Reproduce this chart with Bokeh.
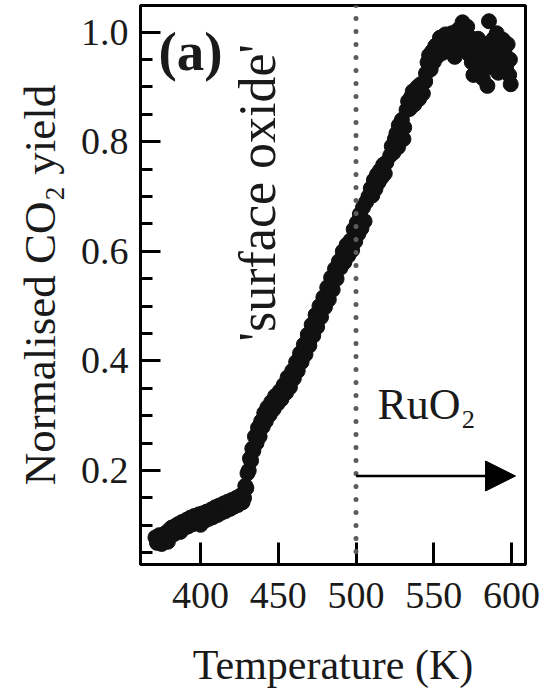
from bokeh.plotting import figure
from bokeh.models import Range1d, Span, Arrow, NormalHead, Label, FixedTicker, PrintfTickFormatter
from bokeh.embed import file_html
from bokeh.resources import INLINE

# ---- data ----
temperature = [
    371.0, 372.0, 373.5, 375.0, 376.0, 377.5, 379.0, 380.0, 381.5, 383.0, 384.0, 385.5, 387.0, 388.0,
    389.5, 391.0, 392.0, 393.5, 395.0, 396.0, 397.5, 399.0, 400.0, 401.5, 403.0, 404.0, 405.5, 407.0,
    408.0, 409.5, 411.0, 412.0, 413.5, 415.0, 416.0, 417.5, 419.0, 420.0, 421.5, 423.0, 424.0, 425.5,
    427.0,
    428.0, 428.8, 429.5, 430.2, 431.0, 431.8, 432.5, 433.3, 434.0, 435.0, 436.0, 437.0, 438.0, 439.0,
    440.0, 441.0, 442.0, 443.0, 444.5, 445.5, 447.0, 448.0, 449.5, 451.0, 452.0, 453.5, 455.0, 456.0,
    457.5, 459.0, 460.0, 461.5, 462.5, 464.0, 465.0, 466.5, 467.5, 469.0, 470.0, 471.5, 472.5, 474.0,
    475.0, 476.5, 477.5, 479.0, 480.0, 481.5, 482.5, 484.0, 485.0, 486.5, 487.5, 489.0, 490.0, 491.5,
    492.5, 494.0, 495.0, 496.5, 497.5, 498.5, 499.5, 500.5, 501.5, 502.5, 503.5, 504.5, 505.5, 506.5,
    508.0, 509.5, 510.5, 511.5, 512.5, 513.5, 514.5, 515.5, 516.5, 517.5, 518.5, 519.5,
    522.0, 523.0, 524.0, 525.0, 526.0, 527.0, 527.5, 528.5, 529.5, 530.5, 531.0,
    532.5, 533.5, 534.5, 535.5, 536.5, 537.5, 538.5, 539.5, 540.5, 541.5, 543.0, 544.5,
    545.0, 546.0, 547.0, 548.0, 549.0, 550.0, 551.0, 552.0, 553.0, 554.0, 555.5, 556.5, 557.5, 558.5,
    559.5, 560.5, 561.5, 562.5, 563.5, 564.5, 565.5, 566.5, 567.5, 568.5, 569.5, 570.5, 571.5, 572.5,
    573.5,
    574.5, 575.5, 576.5, 577.5, 578.5, 579.5, 580.5, 581.5, 582.5, 583.5, 584.5, 585.5, 586.5, 587.5,
    588.5, 589.5, 590.5, 591.5, 592.5, 593.5, 594.5, 595.5, 596.5, 597.5, 598.5, 599.0, 599.5,
]
co2_yield = [
    0.078, 0.068, 0.082, 0.066, 0.077, 0.086, 0.070, 0.092, 0.096, 0.084, 0.099, 0.102, 0.088, 0.106,
    0.095, 0.110, 0.098, 0.114, 0.102, 0.117, 0.105, 0.120, 0.101, 0.122, 0.109, 0.125, 0.112, 0.129,
    0.115, 0.133, 0.119, 0.136, 0.123, 0.140, 0.126, 0.143, 0.130, 0.146, 0.134, 0.150, 0.137, 0.154,
    0.142,
    0.150, 0.172, 0.168, 0.195, 0.200, 0.222, 0.218, 0.240, 0.236, 0.262, 0.250, 0.278, 0.262, 0.290,
    0.280, 0.305, 0.290, 0.315, 0.302, 0.325, 0.312, 0.336, 0.322, 0.345, 0.330, 0.356, 0.342, 0.370,
    0.352, 0.382, 0.368, 0.398, 0.382, 0.414, 0.398, 0.430, 0.412, 0.448, 0.428, 0.466, 0.446, 0.484,
    0.462, 0.500, 0.480, 0.516, 0.498, 0.534, 0.512, 0.552, 0.530, 0.568, 0.550, 0.582, 0.570, 0.600,
    0.580, 0.612, 0.592, 0.620, 0.602, 0.640, 0.618, 0.652, 0.632, 0.668, 0.642, 0.680, 0.655, 0.690,
    0.700, 0.715, 0.702, 0.730, 0.714, 0.740, 0.726, 0.748, 0.735, 0.758, 0.742, 0.762,
    0.775, 0.792, 0.780, 0.805, 0.815, 0.790, 0.830, 0.812, 0.840, 0.805, 0.826,
    0.858, 0.874, 0.860, 0.882, 0.892, 0.868, 0.888, 0.900, 0.878, 0.905, 0.888, 0.910,
    0.925, 0.945, 0.958, 0.932, 0.965, 0.946, 0.975, 0.955, 0.980, 0.990, 0.962, 0.984, 0.996, 0.972,
    0.990, 0.966, 0.998, 0.980, 0.955, 0.992, 1.004, 0.972, 1.008, 1.018, 0.994, 0.976, 1.010, 0.960,
    0.990,
    0.945, 0.922, 0.972, 0.948, 0.988, 0.936, 0.966, 0.916, 0.955, 0.978, 0.902, 1.020, 0.960, 0.936,
    0.988, 0.952, 0.998, 0.926, 0.972, 0.948, 0.986, 0.962, 0.936, 0.978, 0.922, 0.950, 0.905,
]

x_ticks = [400, 450, 500, 550, 600]
y_major_ticks = [0.2, 0.4, 0.6, 0.8, 1.0]
y_minor_ticks = [0.05, 0.10, 0.15, 0.25, 0.30, 0.35, 0.45, 0.50,
                 0.55, 0.65, 0.70, 0.75, 0.85, 0.90, 0.95]

boundary_T = 500          # 'surface oxide' / RuO2 boundary
arrow_y = 0.19
arrow_end_T = 602.6

# axis limits
X_LO, X_HI = 361.4, 609.0
Y_LO, Y_HI = 0.0285, 1.0487

FONT = "Liberation Serif"
TXT = "#1a1a1a"
TICK = "black"

p = figure(
    frame_width=385, frame_height=559,
    x_range=Range1d(X_LO, X_HI), y_range=Range1d(Y_LO, Y_HI),
    output_backend="svg", toolbar_location=None,
    min_border_left=140, min_border_right=20, min_border_top=5, min_border_bottom=120,
)
p.xgrid.visible = False
p.ygrid.visible = False
p.outline_line_color = "black"
p.outline_line_width = 3

# x axis
xa = p.xaxis[0]
xa.ticker = FixedTicker(ticks=x_ticks)
xa.axis_line_width = 3
xa.major_tick_line_width = 3
xa.major_tick_line_color = TICK
xa.major_tick_in = 22
xa.major_tick_out = 0
xa.minor_tick_line_color = None
xa.major_label_text_font = FONT
xa.major_label_text_font_size = "38px"
xa.major_label_text_color = TXT
xa.major_label_standoff = 18
xa.axis_label = "Temperature (K)"
xa.axis_label_text_font = FONT
xa.axis_label_text_font_style = "normal"
xa.axis_label_text_font_size = "42px"
xa.axis_label_text_color = TXT
xa.axis_label_standoff = 31

# y axis
ya = p.yaxis[0]
ya.ticker = FixedTicker(ticks=y_major_ticks, minor_ticks=y_minor_ticks)
ya.formatter = PrintfTickFormatter(format="%.1f")
ya.axis_line_width = 3
ya.major_tick_line_width = 3
ya.major_tick_line_color = TICK
ya.major_tick_in = 20
ya.major_tick_out = 0
ya.minor_tick_line_width = 3
ya.minor_tick_line_color = TICK
ya.minor_tick_in = 12
ya.minor_tick_out = 0
ya.major_label_text_font = FONT
ya.major_label_text_font_size = "38px"
ya.major_label_text_color = TXT
ya.major_label_standoff = 12
ya.axis_label = "Normalised CO\u2082 yield"
ya.axis_label_text_font = FONT
ya.axis_label_text_font_style = "normal"
ya.axis_label_text_font_size = "45px"
ya.axis_label_text_color = TXT
ya.axis_label_standoff = 13

# boundary (dotted)
p.add_layout(Span(location=boundary_T, dimension="height", line_color="#5c5c5c",
                  line_width=5, line_dash="0 13", line_cap="round"))

# data
p.scatter(temperature, co2_yield, size=15, color="#111111")

# arrow
p.add_layout(Arrow(end=NormalHead(size=30, fill_color="black", line_color="black"),
                   x_start=boundary_T, y_start=arrow_y, x_end=arrow_end_T, y_end=arrow_y,
                   line_width=2.5, line_color="black"))

# labels
p.add_layout(Label(x=373, y=0.9645, text="(a)", text_font=FONT, text_font_style="bold",
                   text_font_size="55px", text_color=TXT, text_baseline="alphabetic"))
p.add_layout(Label(x=436.6, y=0.707, text="'surface oxide'", angle=90, angle_units="deg",
                   text_font=FONT, text_font_size="52px", text_color=TXT,
                   text_align="center", text_baseline="middle"))
p.add_layout(Label(x=513.8, y=0.3206, text="RuO\u2082", text_font=FONT, text_font_size="44px",
                   text_color=TXT, text_baseline="alphabetic"))

open("out.html", "w").write(file_html(p, INLINE))
